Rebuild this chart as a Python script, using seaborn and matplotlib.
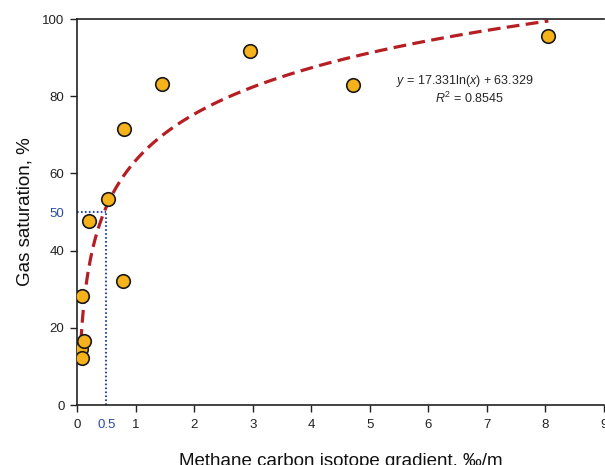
import numpy as np
import pandas as pd
import matplotlib
matplotlib.use("Agg")
import matplotlib.pyplot as plt
import seaborn as sns

# Measured samples
gradient = [0.07, 0.12, 0.09, 0.09, 0.21, 0.53, 0.79, 0.80, 1.45, 2.95, 4.71, 8.05]
saturation = [14.5, 16.7, 12.3, 28.3, 47.7, 53.4, 32.2, 71.5, 83.2, 91.7, 82.9, 95.6]

# Logarithmic fit coefficients
fit_a = 17.331
fit_b = 63.329
fit_r2 = 0.8545

x_ticks = [0, 0.5, 1, 2, 3, 4, 5, 6, 7, 8, 9]
y_ticks = [0, 20, 40, 50, 60, 80, 100]
threshold_x = 0.5
threshold_y = 50

sns.set_style("white")
plt.rcParams["font.family"] = ["Liberation Sans", "DejaVu Sans"]
plt.rcParams["mathtext.fontset"] = "custom"
plt.rcParams["mathtext.rm"] = "Liberation Sans"
plt.rcParams["mathtext.it"] = "Liberation Sans:italic"

fig = plt.figure(figsize=(6.05, 4.65), dpi=100)
W, H = 605, 465
ax = fig.add_axes([77 / W, 1 - 405 / H, (604 - 77) / W, (405 - 19) / H])

df = pd.DataFrame({"x": gradient, "y": saturation})

# fitted curve y = a ln(x) + b
xf = np.linspace(0.05, max(gradient), 400)
fit_df = pd.DataFrame({"x": xf, "y": fit_a * np.log(xf) + fit_b})
sns.lineplot(data=fit_df, x="x", y="y", ax=ax, color="#B51F24", lw=2.3,
             linestyle=(0, (4.0, 2.0)), zorder=2)

# threshold guide lines
blue = "#2A4BA6"
ax.plot([threshold_x, threshold_x], [0, threshold_y], color=blue, lw=1.5,
        linestyle=(0, (0.8, 1.1)), zorder=1)
ax.plot([0, threshold_x], [threshold_y, threshold_y], color=blue, lw=1.5,
        linestyle=(0, (0.8, 1.1)), zorder=1)

sns.scatterplot(data=df, x="x", y="y", ax=ax, s=95, color="#F6B21B",
                edgecolor="#1a1a1a", linewidth=1.2, zorder=3)

ax.set_xlim(0, 9)
ax.set_ylim(0, 100)
ax.set_xticks(x_ticks)
ax.set_xticklabels([f"{t:g}" for t in x_ticks])
ax.set_yticks(y_ticks)
ax.set_yticklabels([f"{t:g}" for t in y_ticks])

ax.tick_params(axis="both", direction="out", length=5, width=1, colors="#222222",
               labelsize=9.5, left=True, bottom=True, labelcolor="#222222")
ax.tick_params(axis="x", pad=5)
ax.tick_params(axis="y", pad=4)

for tick, val in zip(ax.xaxis.get_major_ticks(), x_ticks):
    if val == threshold_x:
        tick.tick1line.set_visible(False)
        tick.label1.set_color(blue)
for tick, val in zip(ax.yaxis.get_major_ticks(), y_ticks):
    if val == threshold_y:
        tick.tick1line.set_visible(False)
        tick.label1.set_color(blue)

for side in ["left", "bottom", "top"]:
    ax.spines[side].set_visible(True)
    ax.spines[side].set_color("#222222")
    ax.spines[side].set_linewidth(1.2)
ax.spines["right"].set_visible(False)

ax.set_xlabel("Methane carbon isotope gradient, ‰/m", fontsize=13.5, color="#111111",
              labelpad=16)
ax.set_ylabel("Gas saturation, %", fontsize=13.5, color="#111111", labelpad=6)

ax.annotate(f"$y$ = {fit_a:.3f}ln($x$) + {fit_b:.3f}", xy=(465 / W, 1 - 81 / H),
            xycoords="figure fraction", fontsize=9, ha="center", va="center")
ax.annotate(f"$R^2$ = {fit_r2:.4f}", xy=(470 / W, 1 - 98 / H), xycoords="figure fraction",
            fontsize=9, ha="center", va="center")

fig.savefig("out.png", dpi=100)
